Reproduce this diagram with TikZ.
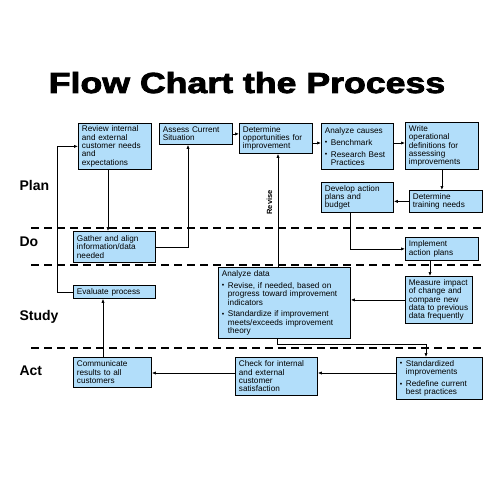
\documentclass[tikz,border=0pt]{standalone}
\usepackage{graphicx}
\usepackage{fontspec}
\setmainfont{Liberation Sans}
\newfontfamily\boxfont{Liberation Sans}
\newfontfamily\heavyfont{Liberation Sans}[BoldFeatures={FakeBold=2.5}]
\usetikzlibrary{arrows.meta}
\definecolor{boxblue}{RGB}{178,222,250}
\newcommand{\bul}{\makebox[6pt][l]{\raisebox{0.4pt}{\scriptsize\textbullet}}}
\newcommand{\ind}{\hspace*{6pt}}

\begin{document}
\begin{tikzpicture}[x=1pt,y=-1pt,
    pbox/.style={draw=black, line width=0.8pt, fill=boxblue, anchor=north west,
      align=left, inner xsep=3.5pt, inner ysep=2pt,
      font={\boxfont\fontsize{8.2}{8.4}\selectfont}},
    arr/.style={-{Latex[length=4pt,width=3.2pt]}, line width=0.7pt},
    divider/.style={line width=2.4pt, dash pattern=on 8pt off 5pt},
    phase/.style={anchor=base west, font={\bfseries\fontsize{14}{14}\selectfont}}]
  \useasboundingbox[fill=white] (0,0) rectangle (500,500);
  % title
  \node (title) [anchor=base, font={\heavyfont\bfseries\fontsize{29}{29}\selectfont}]
    at (247,93) {\scalebox{1.23}[1]{Flow Chart the Process}};
  % phase dividers and labels
  \draw[divider] (31,228) -- (485,228);
  \draw[divider] (31,265) -- (485,265);
  \draw[divider] (31,348) -- (485,348);
  \node (plan)  [phase] at (16,190.5) {Plan};
  \node (do)    [phase] at (16,246) {Do};
  \node (study) [phase] at (16,320) {Study};
  \node (act)   [phase] at (16,375) {Act};
  % Plan row
  \node (review) [pbox, text width=66pt, minimum height=46pt] at (78,123)
    {Review internal\\and external\\customer needs\\and\\expectations};
  \node (assess) [pbox, text width=66pt, minimum height=21pt] at (159,123)
    {Assess Current\\Situation};
  \node (determine) [pbox, text width=66pt, minimum height=30pt] at (239,123)
    {Determine\\opportunities for\\improvement};
  \node (causes) [pbox, text width=65pt, minimum height=46pt] at (321,123)
    {Analyze causes\\[3.5pt]\bul Benchmark\\[3.5pt]\bul Research Best\\\ind Practices};
  \node (write) [pbox, text width=66pt, minimum height=47pt] at (405,122)
    {Write\\operational\\definitions for\\assessing\\improvements};
  \node (training) [pbox, text width=66pt, minimum height=22pt] at (409,190)
    {Determine\\training needs};
  \node (develop) [pbox, text width=65pt, minimum height=30pt] at (321,182)
    {Develop action\\plans and\\budget};
  % Do row
  \node (gather) [pbox, text width=75pt, minimum height=31pt] at (73,231)
    {Gather and align\\information/data\\needed};
  \node (implement) [pbox, text width=66pt, minimum height=23pt] at (405,237)
    {Implement\\action plans};
  % Study row
  \node (evaluate) [pbox, text width=75pt, minimum height=13pt] at (73,285)
    {Evaluate process};
  \node (data) [pbox, text width=125pt, minimum height=71pt] at (218,267)
    {Analyze data\\[3.5pt]\bul Revise, if needed, based on\\\ind progress toward improvement\\\ind indicators\\[3.5pt]\bul Standardize if improvement\\\ind meets/exceeds improvement\\\ind theory};
  \node (measure) [pbox, text width=60pt, minimum height=47pt] at (405,276)
    {Measure impact\\of change and\\compare new\\data to previous\\data frequently};
  % Act row
  \node (communicate) [pbox, text width=71pt, minimum height=30pt] at (73,357)
    {Communicate\\results to all\\customers};
  \node (check) [pbox, text width=75pt, minimum height=38pt] at (235,357)
    {Check for internal\\and external\\customer\\satisfaction};
  \node (std) [pbox, text width=79pt, minimum height=42pt] at (396,357)
    {\bul Standardized\\\ind improvements\\[3.5pt]\bul Redefine current\\\ind best practices};
  % connectors
  \draw[arr] (evaluate.west) -| ([xshift=-21pt]review.west) -- (review.west);
  \draw[arr] (review.south -| 108,0) -- (gather.north -| 108,0);
  \draw[arr] (gather.east) -| (188,0 |- assess.south);
  \draw[arr] (assess.east) -- (assess.east -| determine.west);
  \draw[arr] (determine.east |- 0,143) -- (causes.west |- 0,143);
  \draw[arr] (causes.east |- 0,143) -- (write.west |- 0,143);
  \draw[arr] (write.south) -- (write.south |- training.north);
  \draw[arr] (training.west) -- (training.west -| develop.east);
  \draw[arr] (develop.south -| 350,0) |- (implement.west);
  \draw[arr] (implement.south -| 430,0) -- (measure.north -| 430,0);
  \draw[arr] (measure.west) -- (measure.west -| data.east);
  \draw[arr] (data.north -| 278,0) -- (determine.south -| 278,0)
    node (revise) [pos=0.57, left=2pt, rotate=90, anchor=south,
      font={\bfseries\fontsize{7.5}{7.5}\selectfont}] {Revise};
  \draw[arr] (data.south -| 277,0) -- ++(0,6) -| (std.north -| 426,0);
  \draw[arr] (std.west |- 0,373) -- (check.east |- 0,373);
  \draw[arr] (check.west |- 0,373) -- (communicate.east |- 0,373);
  \draw[arr] (communicate.north -| 103,0) -- (evaluate.south -| 103,0);
\end{tikzpicture}
\end{document}
